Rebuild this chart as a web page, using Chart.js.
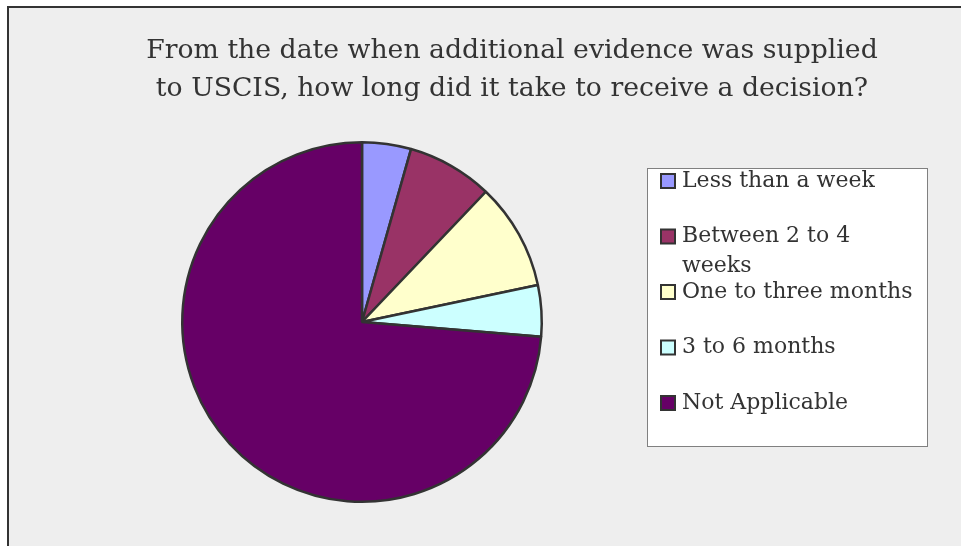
<!DOCTYPE html>
<html lang="en">
<head>
    <meta charset="UTF-8">
    <title>Time to decision after additional evidence</title>
    <script src="https://cdn.jsdelivr.net/npm/chart.js"></script>
    <style>
        body {
            margin: 0;
            padding: 0;
            background: #ffffff;
        }
        .chart-container {
            position: relative;
            width: 961px;
            height: 546px;
        }
    </style>
</head>
<body>
    <div class="chart-container">
        <canvas id="pieChart"></canvas>
    </div>

    <script>
        // data (share of answers, %)
        const titleLines = ['From the date when additional evidence was supplied',
                            'to USCIS, how long did it take to receive a decision?'];
        const categories = [
            'Less than a week',
            ['Between 2 to 4', 'weeks'],
            'One to three months',
            '3 to 6 months',
            'Not Applicable'
        ];
        const shares = [4.4, 7.7, 9.6, 4.6, 73.7];
        const sliceColors = ['#9999ff', '#993366', '#ffffcc', '#ccffff', '#660066'];

        // frame, title and the boxed legend on the right
        const framePlugin = {
            id: 'frame',
            beforeDraw(chart) {
                const ctx = chart.ctx;
                ctx.save();
                ctx.fillStyle = '#ffffff';
                ctx.fillRect(0, 0, chart.width, chart.height);
                ctx.fillStyle = '#eeeeee';
                ctx.fillRect(8, 7, chart.width, chart.height);
                ctx.strokeStyle = '#333333';
                ctx.lineWidth = 2;
                ctx.beginPath();
                ctx.moveTo(8, chart.height);
                ctx.lineTo(8, 7);
                ctx.lineTo(chart.width, 7);
                ctx.stroke();

                // title
                ctx.fillStyle = '#333333';
                ctx.font = '26.7px "DejaVu Serif"';
                ctx.textAlign = 'center';
                ctx.textBaseline = 'middle';
                titleLines.forEach((line, i) => ctx.fillText(line, 512, 51 + i * 38));
                ctx.restore();
            },
            afterDraw(chart) {
                const ctx = chart.ctx;
                const ds = chart.data.datasets[0];
                ctx.save();
                ctx.fillStyle = '#ffffff';
                ctx.fillRect(647, 168, 280, 278);
                ctx.strokeStyle = '#808080';
                ctx.lineWidth = 1;
                ctx.strokeRect(647.5, 168.5, 280, 278);

                ctx.font = '22px "DejaVu Serif"';
                ctx.textAlign = 'left';
                ctx.textBaseline = 'middle';
                chart.data.labels.forEach((label, i) => {
                    const y = 181 + i * 55.5;
                    ctx.fillStyle = ds.backgroundColor[i];
                    ctx.fillRect(661, y - 7, 14, 14);
                    ctx.strokeStyle = '#333333';
                    ctx.lineWidth = 2;
                    ctx.strokeRect(661, y - 7, 14, 14);
                    ctx.fillStyle = '#333333';
                    const lines = Array.isArray(label) ? label : [label];
                    lines.forEach((t, j) => ctx.fillText(t, 682, y + j * 30));
                });
                ctx.restore();
            }
        };

        const ctx = document.getElementById('pieChart').getContext('2d');
        new Chart(ctx, {
            type: 'pie',
            data: {
                labels: categories,
                datasets: [{
                    data: shares,
                    backgroundColor: sliceColors,
                    borderColor: '#333333',
                    borderWidth: 2.5
                }]
            },
            options: {
                responsive: true,
                maintainAspectRatio: false,
                animation: false,
                layout: {
                    padding: { left: 181, right: 418, top: 141, bottom: 43 }
                },
                plugins: {
                    legend: { display: false },
                    title: { display: false },
                    tooltip: { enabled: false }
                }
            },
            plugins: [framePlugin]
        });
    </script>
</body>
</html>
